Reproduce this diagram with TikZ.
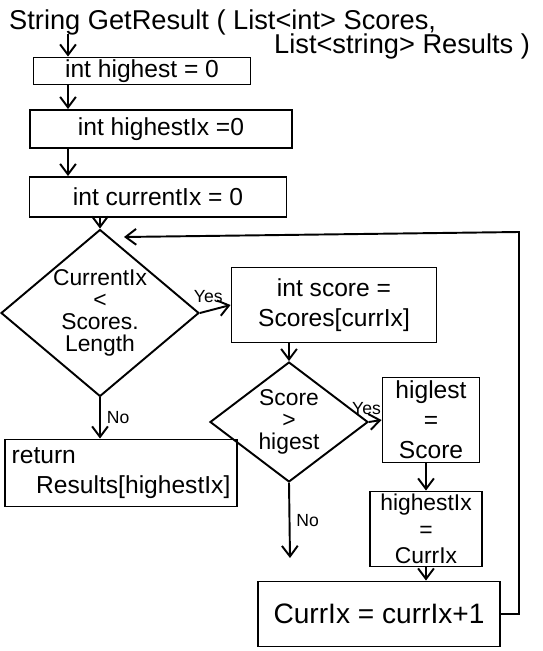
\documentclass[tikz,border=0pt]{standalone}
\usepackage{fontspec}
\setmainfont{Liberation Sans}
\usetikzlibrary{arrows.meta, shapes}

\begin{document}
\begin{tikzpicture}[x=0.02cm, y=-0.02cm, font=\fontsize{14}{17}\selectfont]
\useasboundingbox (0,0) rectangle (542,651);
\node[anchor=west, font=\fontsize{15.5}{18}\selectfont] (sig) at (3,22) {String GetResult ( List<int> Scores,};
\node[anchor=west, font=\fontsize{15.5}{18}\selectfont] (sig2) at (268,46) {List<string> Results )};
\coordinate (sigarr) at (68,34);
\coordinate (loop) at (519,232);
\coordinate (back) at (124,237);
\coordinate (noend) at (290,558);

\begin{scope}[every node/.style={rectangle,draw,line width=1.1pt,inner sep=1pt,align=center}]
  \node[minimum width=4.34cm, minimum height=0.54cm] (h) at (142,71) {int highest = 0};
    \node[minimum width=5.24cm, minimum height=0.76cm] (hix) at (161,129) {int highestIx =0};
    \node[minimum width=5.14cm, minimum height=0.8cm] (cix) at (158,197) {int currentIx = 0};
    \node[shape=diamond, aspect=1.19, inner sep=-8pt, minimum width=3.96cm, minimum height=3.34cm,
          font=\fontsize{13}{12.5}\selectfont] (c1) at (100,313) {CurrentIx\\<\\Scores.\\Length};
    \node[minimum width=4.1cm, minimum height=1.5cm] (sc) at (334,305) {int score =\\Scores[currIx]};
    \node[shape=diamond, aspect=1.32, inner sep=-8pt, minimum width=3.16cm, minimum height=2.4cm,
          font=\fontsize{13}{12.5}\selectfont] (c2) at (289,422) {Score\\>\\higest};
    \node[minimum width=1.94cm, minimum height=1.7cm] (hs) at (431,420) {higlest\\=\\Score};
    \node[minimum width=2.24cm, minimum height=1.5cm, font=\fontsize{13}{15}\selectfont] (hx) at (426,529) {highestIx\\=\\CurrIx};
    \node[minimum width=4.84cm, minimum height=1.3cm, font=\fontsize{16}{19}\selectfont] (inc) at (379,614) {CurrIx = currIx+1};
    \node[minimum width=4.64cm, minimum height=1.34cm, align=left] (ret) at (121,473) {return\\\quad Results[highestIx]};
\end{scope}

\begin{scope}[>={Straight Barb[length=6pt,width=9pt]},
              every node/.style={font=\fontsize{10}{12}\selectfont},
              every edge/.style={draw=black, line width=1.1pt}]
    \path[->] (sigarr) edge (sigarr |- h.north);
    \path[->] (h.south -| sigarr) edge (hix.north -| sigarr);
    \path[->] (hix.south -| sigarr) edge (cix.north -| sigarr);
    \path[->] (cix.south -| c1.north) edge (c1.north);
    \path[->] (c1.east) edge node[above, xshift=-4pt] {Yes} (sc.west);
    \path[->] (c1.south) edge node[right] {No} (c1.south |- ret.north);
    \path[->] (sc.south -| c2.north) edge (c2.north);
    \path[->] (c2.east) edge node[above, xshift=-5pt] {Yes} (hs.west);
    \path[->] (c2.south) edge node[right] {No} (noend);
    \path[->] (hs.south -| hx.north) edge (hx.north);
    \path[->] (hx.south) edge (hx.south |- inc.north);
    \draw[->, line width=1.1pt] (inc.east) -| (loop) -- (back);
\end{scope}
\end{tikzpicture}
\end{document}
